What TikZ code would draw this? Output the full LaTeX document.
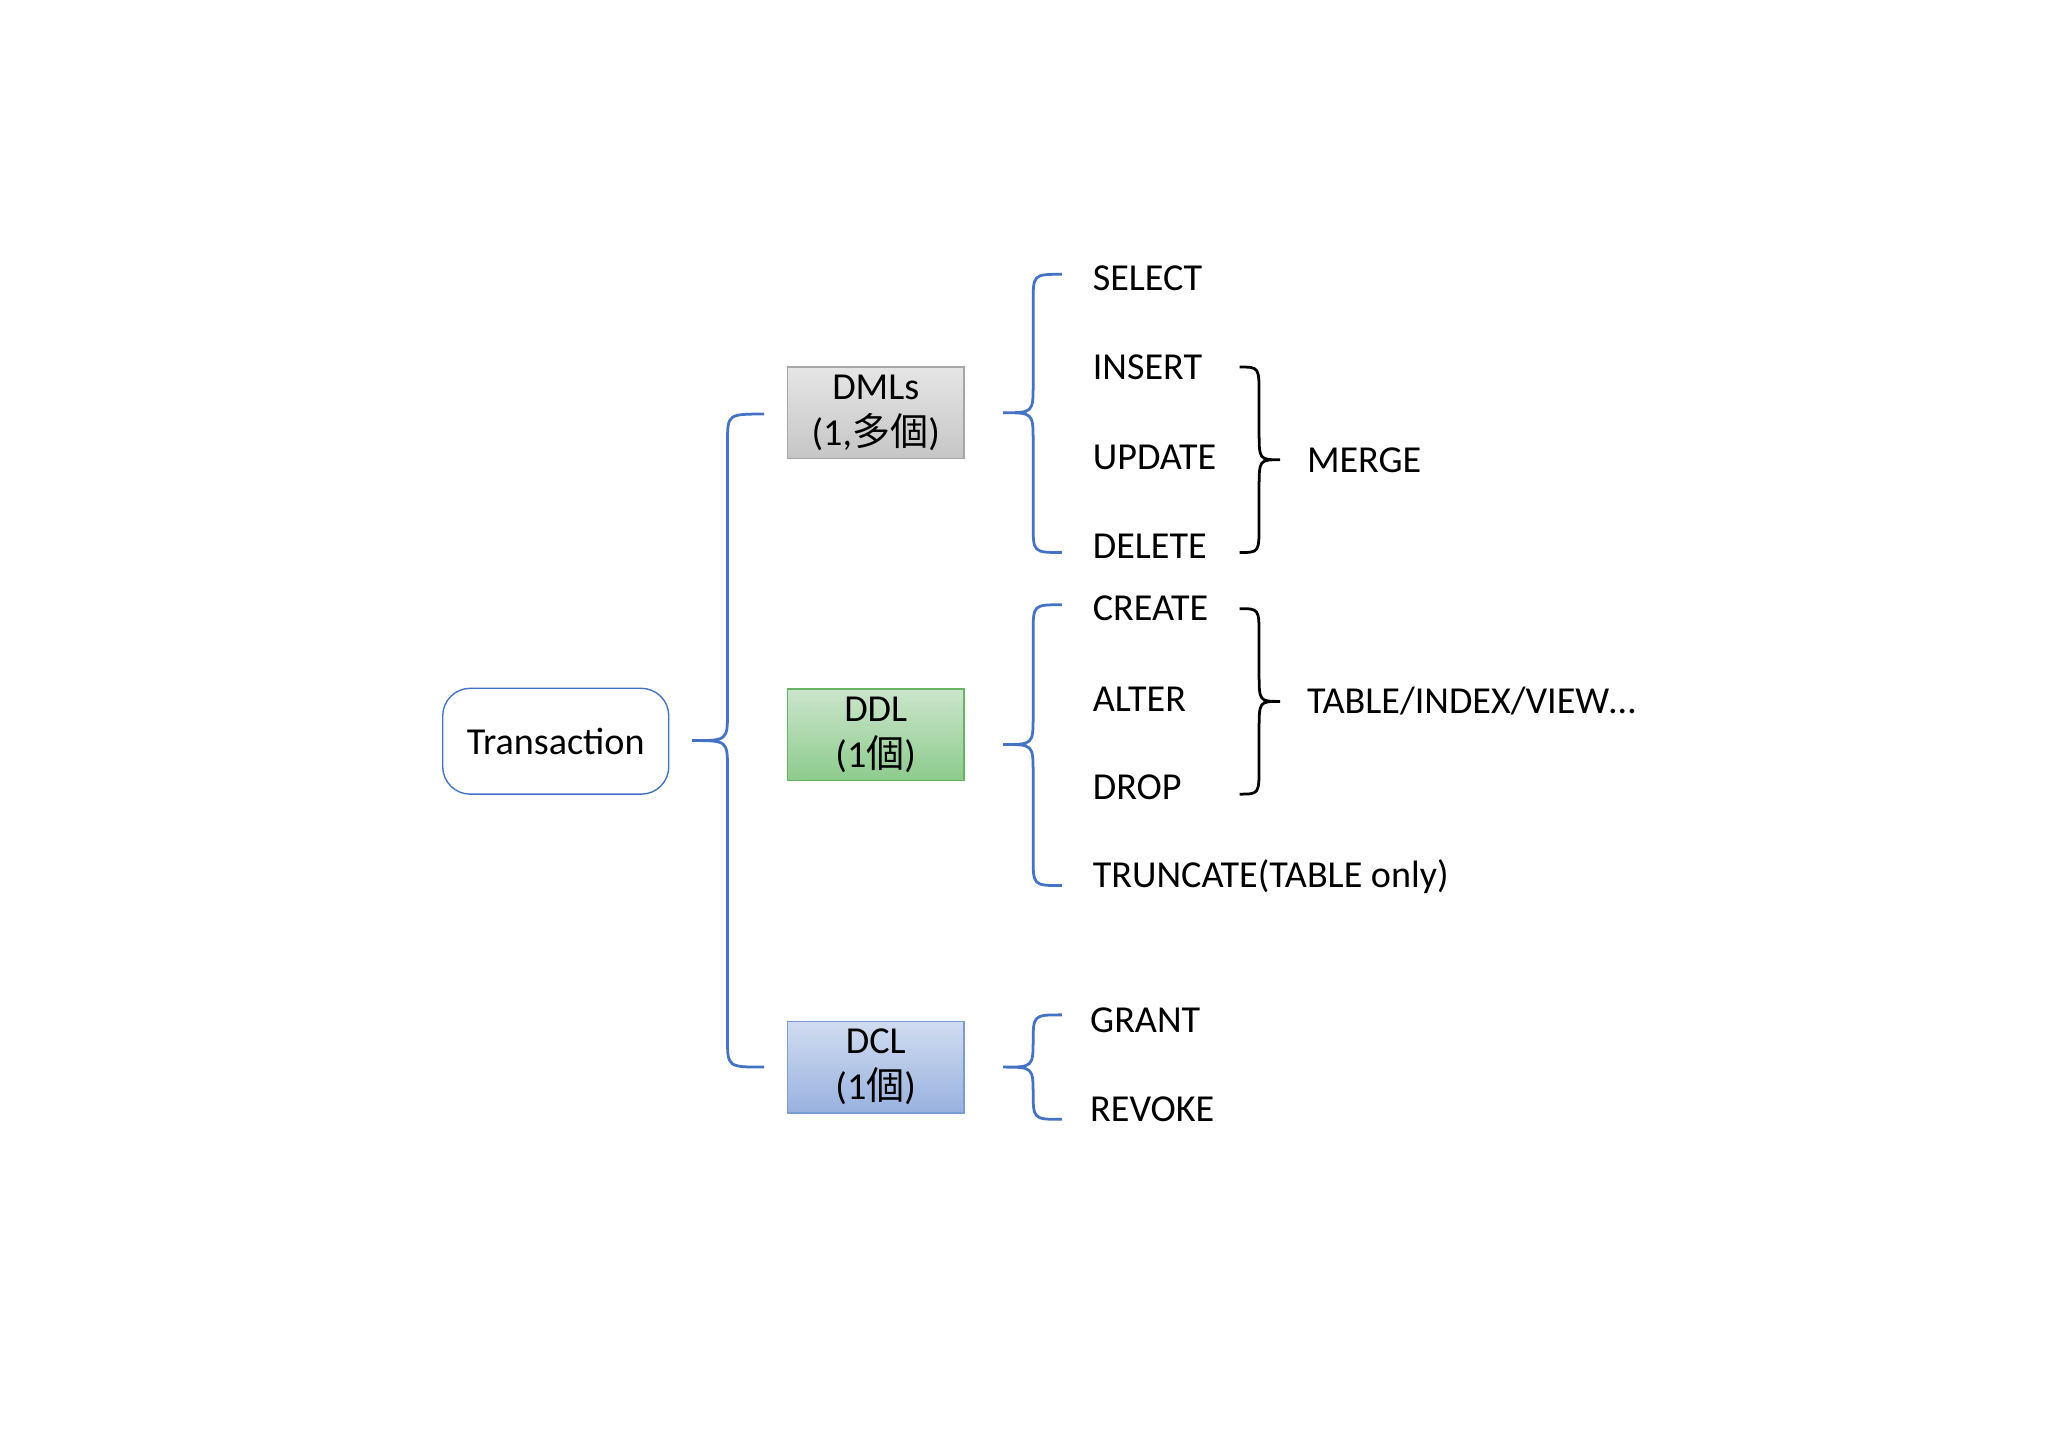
\documentclass[tikz,border=0pt]{standalone}
\usepackage{fontspec}
\setmainfont{Carlito}
\newfontfamily\cjk{Noto Sans CJK JP}
\begin{document}
\begin{tikzpicture}[x=0.01cm,y=-0.01cm,
  lbl/.style={anchor=west,inner sep=0pt,font=\fontsize{8.3}{10}\selectfont},
  boxx/.style={minimum width=1.35cm,minimum height=0.70cm,align=center,font=\fontsize{8.3}{10}\selectfont,inner sep=0pt,line width=0.3pt},
  brc/.style={draw=blue!60!black!70!cyan,line width=0.5pt}]
\definecolor{bl}{HTML}{4472C4}
\fill[white] (0,0) rectangle (1568,1108);
\newcommand\bracL[5]{% xl xm xr ytop ytip ybot as #1 #2 #3, #4 #5, last via arg
}
\def\rr{22}
% left braces: (xl,xm,xr,yt,ytip,yb)
\def\LB#1#2#3#4#5#6{\draw[bl,line width=0.6pt] (#3,#4) .. controls (#2,#4) .. (#2,#4+\rr) -- (#2,#5-\rr) .. controls (#2,#5) .. (#1,#5) .. controls (#2,#5) .. (#2,#5+\rr) -- (#2,#6-\rr) .. controls (#2,#6) .. (#3,#6);}
\def\RB#1#2#3#4#5#6{\draw[black,line width=0.6pt] (#1,#4) .. controls (#2,#4) .. (#2,#4+\rr) -- (#2,#5-\rr) .. controls (#2,#5) .. (#3,#5) .. controls (#2,#5) .. (#2,#5+\rr) -- (#2,#6-\rr) .. controls (#2,#6) .. (#1,#6);}
\node[boxx,draw=bl,rounded corners=6pt,minimum width=1.73cm,minimum height=0.81cm] (tr) at (425.5,567.5) {Transaction};
\node[boxx,draw=gray!70,top color=gray!20,bottom color=gray!45] (dml) at (670.5,316) {DMLs\\(1,{\cjk 多個})};
\node[boxx,draw=green!50!black!60,top color=green!50!black!20!white,bottom color=green!55!black!45!white] (ddl) at (670.5,562.5) {DDL\\(1{\cjk 個})};
\node[boxx,draw=bl!70,top color=bl!25,bottom color=bl!55] (dcl) at (670.5,817) {DCL\\(1{\cjk 個})};
\LB{530}{557}{585}{317}{567}{817}
\LB{768}{791}{813}{210}{316}{423}
\LB{768}{791}{813}{463}{570}{678}
\LB{768}{791}{813}{777}{817}{857}
\RB{949}{964}{980}{281}{352}{423}
\RB{949}{964}{980}{466}{537}{608}
\node[lbl] (sel) at (836,213) {SELECT};
\node[lbl] (ins) at (836,281) {INSERT};
\node[lbl] (upd) at (836,350) {UPDATE};
\node[lbl] (del) at (836,418) {DELETE};
\node[lbl] (mer) at (1000,352) {MERGE};
\node[lbl] (cre) at (836,466) {CREATE};
\node[lbl] (alt) at (836,535) {ALTER};
\node[lbl] (drp) at (836,603) {DROP};
\node[lbl] (tru) at (836,671) {TRUNCATE(TABLE only)};
\node[lbl] (tiv) at (1000,537) {TABLE/INDEX/VIEW…};
\node[lbl] (gra) at (834,781) {GRANT};
\node[lbl] (rev) at (834,849) {REVOKE};
\end{tikzpicture}
\end{document}
